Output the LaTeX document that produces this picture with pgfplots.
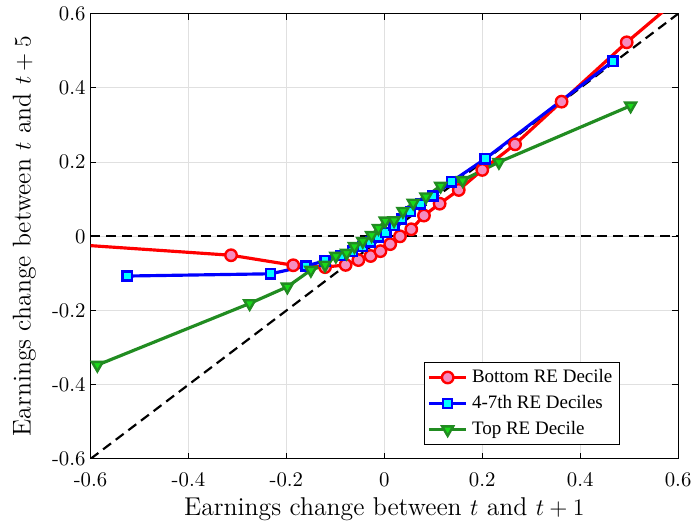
\documentclass[border=0pt]{standalone}
\usepackage{fontspec}
\newfontfamily\timesf{Liberation Serif}
\usepackage{pgfplots}
\pgfplotsset{compat=1.18}
\definecolor{mred}{rgb}{1,0,0}
\definecolor{mpink}{rgb}{0.96,0.55,0.75}
\definecolor{mblue}{rgb}{0,0,1}
\definecolor{mcyan}{rgb}{0,1,1}
\definecolor{mgreen}{rgb}{0.13,0.55,0.13}
\definecolor{mlgreen}{rgb}{0.1,0.85,0.1}
\begin{document}
\begin{tikzpicture}
\begin{axis}[
  scale only axis, width=297pt, height=225pt,
  xmin=-0.6, xmax=0.6, ymin=-0.6, ymax=0.6,
  xtick={-0.6,-0.4,-0.2,0,0.2,0.4,0.6},
  ytick={-0.6,-0.4,-0.2,0,0.2,0.4,0.6},
  xticklabels={-0.6,-0.4,-0.2,0,0.2,0.4,0.6},
  yticklabels={-0.6,-0.4,-0.2,0,0.2,0.4,0.6},
  grid=major, major grid style={black!12, line width=0.5pt},
  tick align=inside, tick pos=both, major tick length=3pt,
  tick style={black, line width=0.5pt},
  axis line style={line width=0.5pt},
  ticklabel style={font=\fontsize{10.5}{12}\selectfont},
  xticklabel style={yshift=-3.5pt},
  yticklabel style={xshift=1pt},
  xlabel={Earnings change between $t$ and $t+1$},
  ylabel={Earnings change between $t$ and $t+5$},
  label style={font=\fontsize{13}{15}\selectfont},
  xlabel style={at={(rel axis cs:0.5,0)}, anchor=center, yshift=-25.3pt, inner sep=2.5pt},
  ylabel style={at={(rel axis cs:0,0.5)}, anchor=center, yshift=33.4pt, inner sep=6.5pt},
  legend style={at={(rel axis cs:1,0)}, xshift=-29.5pt, yshift=7pt, anchor=south east, draw=black, line width=0.5pt,
    font=\timesf\fontsize{9.6}{12}\selectfont, cells={anchor=west}, inner sep=1.5pt, row sep=1pt},
  legend image code/.code={\draw[mark repeat=2,mark phase=2,#1] plot coordinates {(0pt,0pt)(9.5pt,0pt)(19pt,0pt)};},
]
\addplot[black, line width=1.1pt, dash pattern=on 5pt off 3pt, forget plot] coordinates {(-0.6,0) (0.6,0)};
\addplot[black, line width=1.1pt, dash pattern=on 5pt off 3pt, forget plot] coordinates {(-0.6,-0.6) (0.6,0.6)};

\addplot[mred, line width=1.6pt, mark=*, mark size=2.9pt,
  mark options={solid, fill=mpink, draw=mred, line width=1.2pt}] coordinates {
(-0.9,0.002) (-0.313,-0.051) (-0.186,-0.078) (-0.121,-0.083) (-0.079,-0.077)
(-0.053,-0.064) (-0.028,-0.053) (-0.008,-0.040) (0.012,-0.021) (0.032,0.000)
(0.055,0.019) (0.081,0.056) (0.113,0.088) (0.152,0.125) (0.200,0.179)
(0.267,0.248) (0.362,0.363) (0.495,0.523) (0.75,0.808)};
\addlegendentry{Bottom RE Decile}

\addplot[mblue, line width=1.6pt, mark=square*, mark size=2.3pt,
  mark options={solid, fill=mcyan, draw=mblue, line width=1.2pt}] coordinates {
(-0.525,-0.107) (-0.232,-0.101) (-0.160,-0.080) (-0.121,-0.066) (-0.090,-0.052)
(-0.065,-0.040) (-0.045,-0.027) (-0.028,-0.015) (-0.012,-0.002) (0.003,0.010)
(0.020,0.029) (0.035,0.047) (0.053,0.067) (0.074,0.087) (0.099,0.109)
(0.137,0.147) (0.206,0.209) (0.467,0.472)};
\addlegendentry{4-7th RE Deciles}

\addplot[mgreen, line width=1.6pt, mark=triangle*, mark size=3.2pt,
  mark options={solid, rotate=180, fill=mlgreen, draw=mgreen, line width=1.2pt}] coordinates {
(-0.586,-0.347) (-0.275,-0.181) (-0.198,-0.136) (-0.150,-0.091) (-0.121,-0.077)
(-0.099,-0.053) (-0.077,-0.045) (-0.061,-0.027) (-0.044,-0.013) (-0.026,0.003)
(-0.012,0.022) (0.002,0.042) (0.020,0.043) (0.038,0.068) (0.059,0.090)
(0.085,0.107) (0.115,0.136) (0.160,0.151) (0.234,0.200) (0.503,0.352)};
\addlegendentry{Top RE Decile}
\end{axis}
\end{tikzpicture}
\end{document}
